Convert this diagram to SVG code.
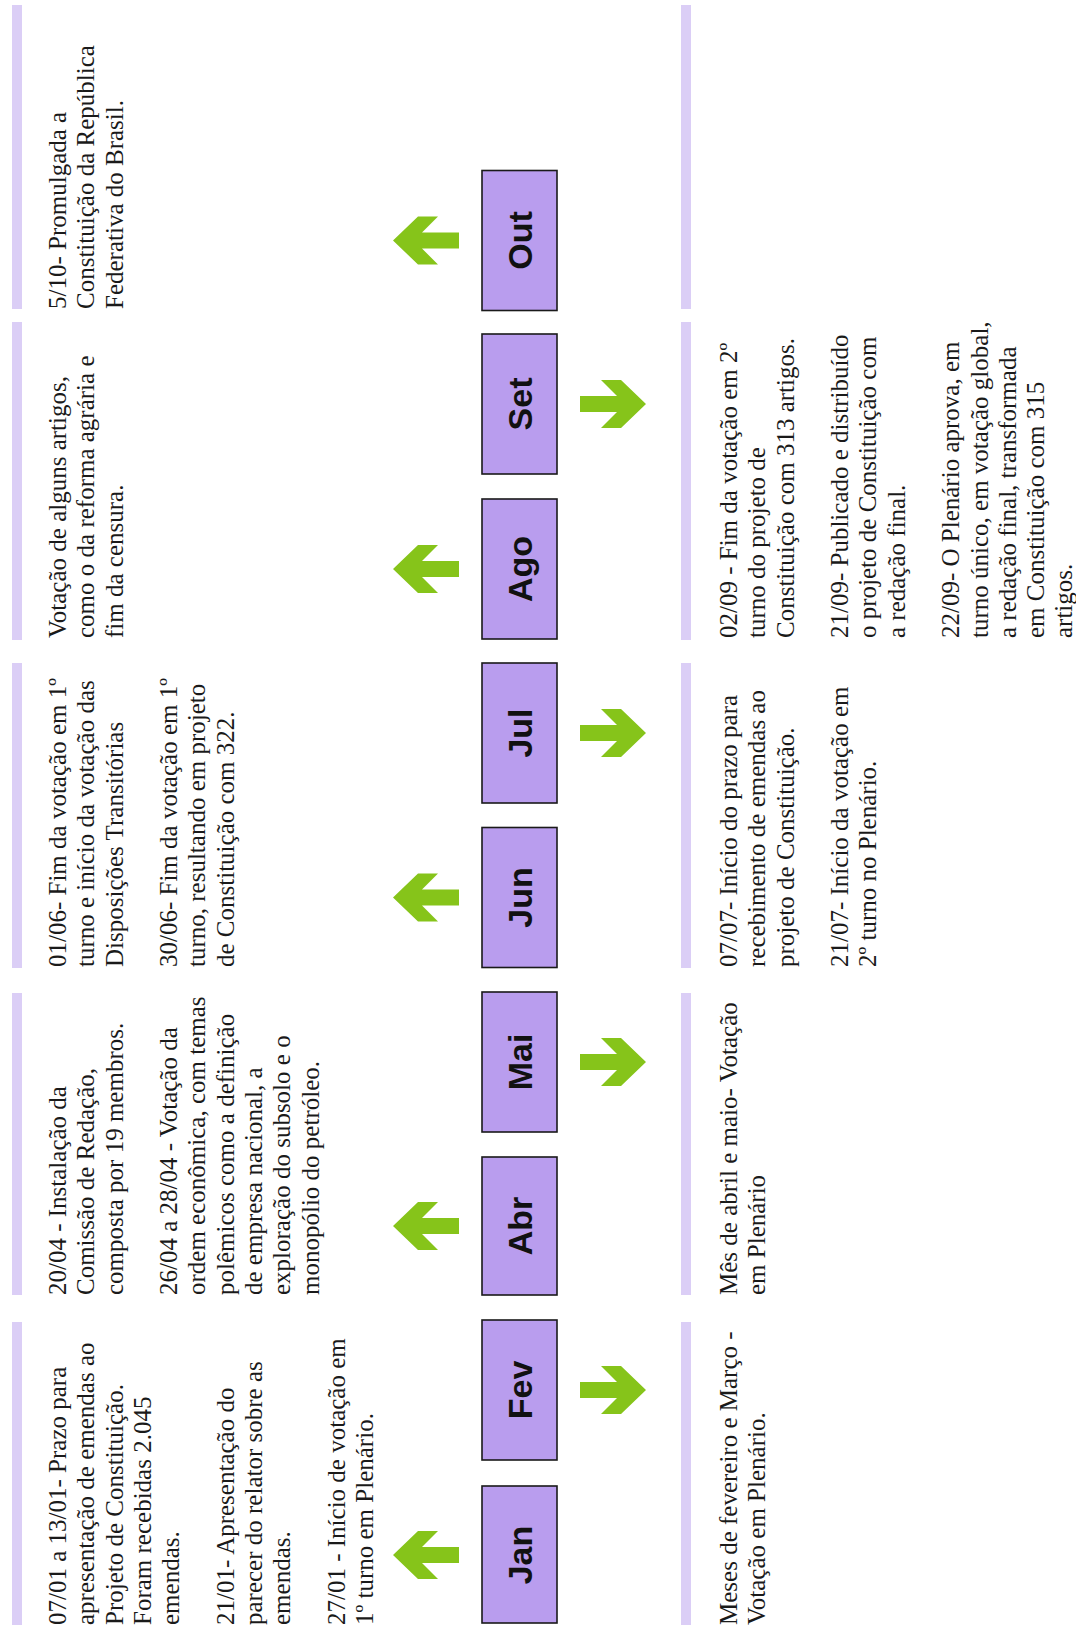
<svg xmlns="http://www.w3.org/2000/svg" xmlns:xlink="http://www.w3.org/1999/xlink" width="1076" height="1630" viewBox="0 0 1076 1630">
<style>
.bg{fill:#ffffff}
.bar{fill:#DBCEF6}
.box{fill:#B99DEE;stroke:#1a1a1a;stroke-width:1.6}
.lbl{font-family:"Liberation Sans",Arial,sans-serif;font-weight:bold;font-size:34px;fill:#111;text-anchor:middle}
.t{font-family:"Liberation Serif","Times New Roman",serif;font-size:25px;fill:#1a1a1a}
.arr{fill:#86C41A}
</style>
<defs>
<path id="arrL" d="M-33,0 L-8,-24 L12,-24 L-4,-8 L33,-8 L33,8 L-4,8 L12,24 L-8,24 Z"/>
</defs>
<rect class="bg" x="0" y="0" width="1076" height="1630"/>

<!-- month nodes -->
<g id="month-jan"><rect class="box" x="482" y="1486" width="75" height="137"/><text class="lbl" transform="translate(519.5,1555) rotate(-90)" x="0" y="12">Jan</text></g>
<g id="month-fev"><rect class="box" x="482" y="1320" width="75" height="140"/><text class="lbl" transform="translate(519.5,1390) rotate(-90)" x="0" y="12">Fev</text></g>
<g id="month-abr"><rect class="box" x="482" y="1157" width="75" height="138"/><text class="lbl" transform="translate(519.5,1226) rotate(-90)" x="0" y="12">Abr</text></g>
<g id="month-mai"><rect class="box" x="482" y="992" width="75" height="140"/><text class="lbl" transform="translate(519.5,1062) rotate(-90)" x="0" y="12">Mai</text></g>
<g id="month-jun"><rect class="box" x="482" y="827.5" width="75" height="140"/><text class="lbl" transform="translate(519.5,897.5) rotate(-90)" x="0" y="12">Jun</text></g>
<g id="month-jul"><rect class="box" x="482" y="663" width="75" height="140"/><text class="lbl" transform="translate(519.5,733) rotate(-90)" x="0" y="12">Jul</text></g>
<g id="month-ago"><rect class="box" x="482" y="499" width="75" height="140"/><text class="lbl" transform="translate(519.5,569) rotate(-90)" x="0" y="12">Ago</text></g>
<g id="month-set"><rect class="box" x="482" y="334" width="75" height="140"/><text class="lbl" transform="translate(519.5,404) rotate(-90)" x="0" y="12">Set</text></g>
<g id="month-out"><rect class="box" x="482" y="170.5" width="75" height="140"/><text class="lbl" transform="translate(519.5,240.5) rotate(-90)" x="0" y="12">Out</text></g>

<!-- arrows -->
<g id="connectors" class="arr">
<use xlink:href="#arrL" href="#arrL" transform="translate(426,1555)"/>
<use xlink:href="#arrL" href="#arrL" transform="translate(613,1390) scale(-1,1)"/>
<use xlink:href="#arrL" href="#arrL" transform="translate(426,1226)"/>
<use xlink:href="#arrL" href="#arrL" transform="translate(613,1062) scale(-1,1)"/>
<use xlink:href="#arrL" href="#arrL" transform="translate(426,897.5)"/>
<use xlink:href="#arrL" href="#arrL" transform="translate(613,733) scale(-1,1)"/>
<use xlink:href="#arrL" href="#arrL" transform="translate(426,569)"/>
<use xlink:href="#arrL" href="#arrL" transform="translate(613,404) scale(-1,1)"/>
<use xlink:href="#arrL" href="#arrL" transform="translate(426,240.5)"/>
</g>

<!-- left notes -->
<g id="note-jan">
<rect class="bar" x="12" y="1322" width="10" height="303"/>
<text class="t" transform="translate(66,1625) rotate(-90)">
<tspan x="0" y="0">07/01 a 13/01- Prazo para</tspan>
<tspan x="0" dy="28.3">apresentação de emendas ao</tspan>
<tspan x="0" dy="28.3">Projeto de Constituição.</tspan>
<tspan x="0" dy="28.3">Foram recebidas 2.045</tspan>
<tspan x="0" dy="28.3">emendas.</tspan>
<tspan x="0" dy="54.5">21/01- Apresentação do</tspan>
<tspan x="0" dy="28.3">parecer do relator sobre as</tspan>
<tspan x="0" dy="28.3">emendas.</tspan>
<tspan x="0" dy="54.5">27/01 - Início de votação em</tspan>
<tspan x="0" dy="28.3">1º turno em Plenário.</tspan>
</text>
</g>
<g id="note-abr">
<rect class="bar" x="12" y="993" width="10" height="302"/>
<text class="t" transform="translate(66,1295) rotate(-90)">
<tspan x="0" y="0">20/04 - Instalação da</tspan>
<tspan x="0" dy="28.3">Comissão de Redação,</tspan>
<tspan x="0" dy="28.3">composta por 19 membros.</tspan>
<tspan x="0" dy="54.5">26/04 a 28/04 - Votação da</tspan>
<tspan x="0" dy="28.3">ordem econômica, com temas</tspan>
<tspan x="0" dy="28.3">polêmicos como a definição</tspan>
<tspan x="0" dy="28.3">de empresa nacional, a</tspan>
<tspan x="0" dy="28.3">exploração do subsolo e o</tspan>
<tspan x="0" dy="28.3">monopólio do petróleo.</tspan>
</text>
</g>
<g id="note-jun">
<rect class="bar" x="12" y="663" width="10" height="305"/>
<text class="t" transform="translate(66,967) rotate(-90)">
<tspan x="0" y="0">01/06- Fim da votação em 1º</tspan>
<tspan x="0" dy="28.3">turno e início da votação das</tspan>
<tspan x="0" dy="28.3">Disposições Transitórias</tspan>
<tspan x="0" dy="54.5">30/06- Fim da votação em 1º</tspan>
<tspan x="0" dy="28.3">turno, resultando em projeto</tspan>
<tspan x="0" dy="28.3">de Constituição com 322.</tspan>
</text>
</g>
<g id="note-ago">
<rect class="bar" x="12" y="322" width="10" height="318"/>
<text class="t" transform="translate(66,638) rotate(-90)">
<tspan x="0" y="0">Votação de alguns artigos,</tspan>
<tspan x="0" dy="28.3">como o da reforma agrária e</tspan>
<tspan x="0" dy="28.3">fim da censura.</tspan>
</text>
</g>
<g id="note-out">
<rect class="bar" x="12" y="5" width="10" height="304"/>
<text class="t" transform="translate(66,309) rotate(-90)">
<tspan x="0" y="0">5/10- Promulgada a</tspan>
<tspan x="0" dy="28.3">Constituição da República</tspan>
<tspan x="0" dy="28.3">Federativa do Brasil.</tspan>
</text>
</g>

<!-- right notes -->
<g id="note-fev">
<rect class="bar" x="681" y="1322" width="10" height="303"/>
<text class="t" transform="translate(737,1625) rotate(-90)">
<tspan x="0" y="0">Meses de fevereiro e Março -</tspan>
<tspan x="0" dy="28.3">Votação em Plenário.</tspan>
</text>
</g>
<g id="note-mai">
<rect class="bar" x="681" y="993" width="10" height="302"/>
<text class="t" transform="translate(737,1295) rotate(-90)">
<tspan x="0" y="0">Mês de abril e maio- Votação</tspan>
<tspan x="0" dy="28.3">em Plenário</tspan>
</text>
</g>
<g id="note-jul">
<rect class="bar" x="681" y="663" width="10" height="305"/>
<text class="t" transform="translate(737,967) rotate(-90)">
<tspan x="0" y="0">07/07- Início do prazo para</tspan>
<tspan x="0" dy="28.3">recebimento de emendas ao</tspan>
<tspan x="0" dy="28.3">projeto de Constituição.</tspan>
<tspan x="0" dy="54.5">21/07- Início da votação em</tspan>
<tspan x="0" dy="28.3">2º turno no Plenário.</tspan>
</text>
</g>
<g id="note-set">
<rect class="bar" x="681" y="322" width="10" height="318"/>
<text class="t" transform="translate(737,638) rotate(-90)">
<tspan x="0" y="0">02/09 - Fim da votação em 2º</tspan>
<tspan x="0" dy="28.3">turno do projeto de</tspan>
<tspan x="0" dy="28.3">Constituição com 313 artigos.</tspan>
<tspan x="0" dy="54.5">21/09- Publicado e distribuído</tspan>
<tspan x="0" dy="28.3">o projeto de Constituição com</tspan>
<tspan x="0" dy="28.3">a redação final.</tspan>
<tspan x="0" dy="54.5">22/09- O Plenário aprova, em</tspan>
<tspan x="0" dy="28.3">turno único, em votação global,</tspan>
<tspan x="0" dy="28.3">a redação final, transformada</tspan>
<tspan x="0" dy="28.3">em Constituição com 315</tspan>
<tspan x="0" dy="28.3">artigos.</tspan>
</text>
</g>
<g id="note-end">
<rect class="bar" x="681" y="5" width="10" height="304"/>
</g>
</svg>
